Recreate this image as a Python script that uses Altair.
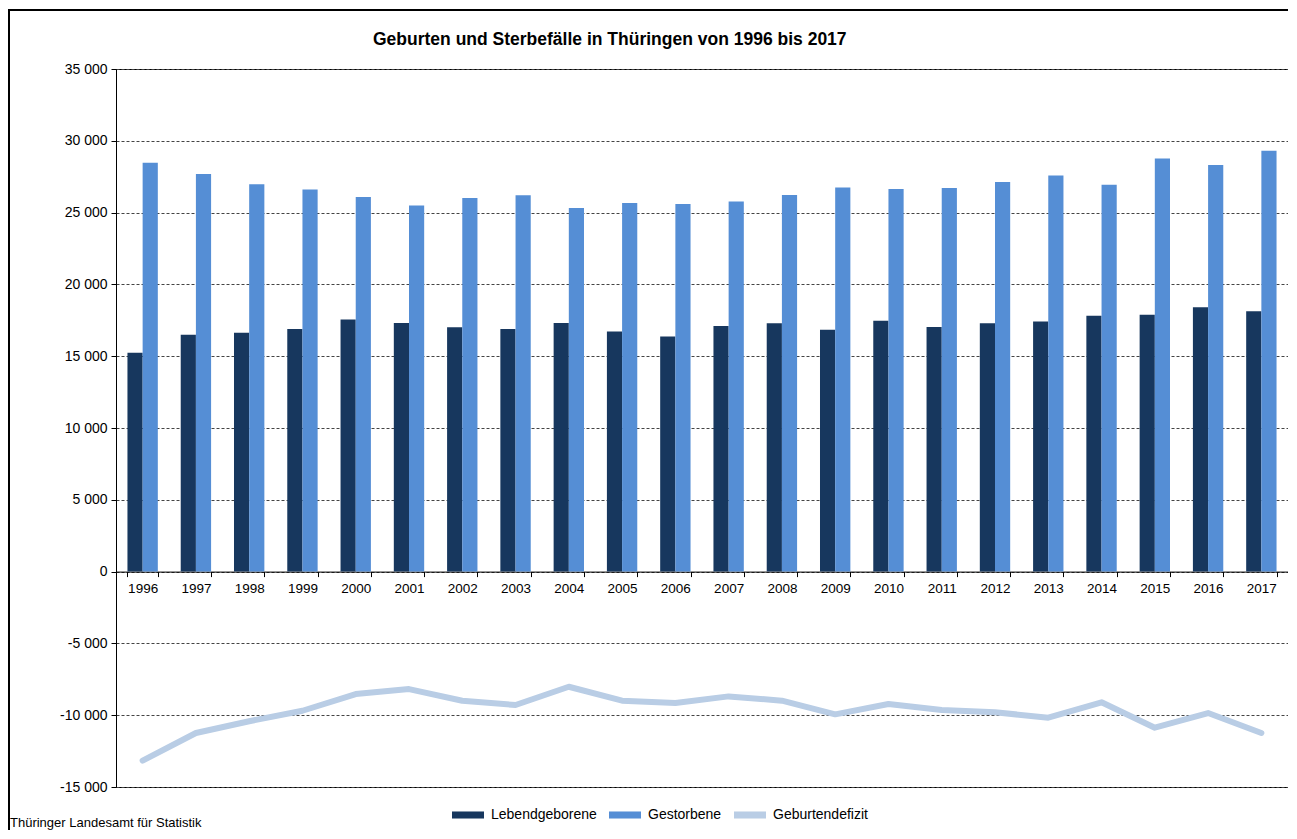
import altair as alt
import pandas as pd

years = ["1996", "1997", "1998", "1999", "2000", "2001", "2002", "2003", "2004", "2005", "2006",
         "2007", "2008", "2009", "2010", "2011", "2012", "2013", "2014", "2015", "2016", "2017"]
lebendgeborene = [15240, 16490, 16630, 16900, 17550, 17320, 17020, 16900, 17320, 16720, 16370,
                  17110, 17300, 16840, 17460, 17040, 17300, 17410, 17810, 17880, 18410, 18130]
gestorbene = [28470, 27690, 26970, 26600, 26090, 25490, 26020, 26200, 25320, 25670, 25600,
              25780, 26220, 26750, 26640, 26710, 27130, 27590, 26940, 28770, 28310, 29300]
geburtendefizit = [-13160, -11240, -10420, -9690, -8530, -8180, -8990, -9290, -8020, -8990, -9150,
                   -8690, -8990, -9940, -9220, -9640, -9800, -10170, -9100, -10870, -9850, -11240]
series = ["Lebendgeborene", "Gestorbene", "Geburtendefizit"]
colors = ["#17375E", "#558ED5", "#B9CDE5"]
title_text = "Geburten und Sterbefälle in Thüringen von 1996 bis 2017"
source_text = "Thüringer Landesamt für Statistik"

bar_df = pd.DataFrame({
    "Jahr": years * 2,
    "Reihe": [series[0]] * len(years) + [series[1]] * len(years),
    "Wert": lebendgeborene + gestorbene,
})
line_df = pd.DataFrame({"Jahr": years, "Reihe": series[2], "Wert": geburtendefizit})

W, H = 1172, 718
Y_MIN, Y_MAX = -15000, 35000
zero_from_bottom = H * (0 - Y_MIN) / (Y_MAX - Y_MIN)
FONT = "Liberation Sans"

xscale = alt.Scale(domain=years, paddingInner=0.43, paddingOuter=0.215)
yscale = alt.Scale(domain=[Y_MIN, Y_MAX], nice=False)
cscale = alt.Scale(domain=series, range=colors)

bars = alt.Chart(bar_df).mark_bar().encode(
    x=alt.X("Jahr:N", scale=xscale, sort=years,
            axis=alt.Axis(title=None, labelAngle=0, offset=-zero_from_bottom, tickBand="extent",
                          tickSize=5, tickColor="#000", domainColor="#000", labelPadding=5,
                          labelFontSize=13.5, labelColor="#000", labelFont=FONT, grid=False)),
    xOffset=alt.XOffset("Reihe:N", scale=alt.Scale(domain=series[:2])),
    y=alt.Y("Wert:Q", scale=yscale,
            axis=alt.Axis(title=None, values=list(range(Y_MIN, Y_MAX + 1, 5000)),
                          labelExpr="replace(replace(format(datum.value, ','), ',', ' '), '\u2212', '-')",
                          tickSize=5, tickColor="#000", domainColor="#000", labelPadding=4,
                          labelFontSize=14, labelColor="#000", labelFont=FONT,
                          grid=True, gridColor="#444", gridDash=[3, 2], gridWidth=1)),
    color=alt.Color("Reihe:N", scale=cscale, title=None,
                    legend=alt.Legend(orient="none", legendX=336, legendY=730, direction="horizontal",
                                      symbolType="M-1,-0.22H1V0.22H-1Z", symbolSize=1024,
                                      symbolStrokeWidth=0, labelFontSize=14, labelFont=FONT,
                                      labelColor="#000", columnPadding=12, labelOffset=7)),
)

line = alt.Chart(line_df).mark_line(strokeWidth=6, strokeCap="round", strokeJoin="round").encode(
    x=alt.X("Jahr:N", scale=xscale, sort=years),
    y=alt.Y("Wert:Q", scale=yscale),
    color=alt.Color("Reihe:N", scale=cscale),
)

title = alt.Chart(pd.DataFrame({"t": [title_text]})).mark_text(
    align="left", baseline="middle", fontSize=17.5, font=FONT, fontWeight="bold", color="#000"
).encode(x=alt.value(257), y=alt.value(-29), text="t:N")

source = alt.Chart(pd.DataFrame({"t": [source_text]})).mark_text(
    align="left", baseline="middle", fontSize=13, font=FONT, color="#000"
).encode(x=alt.value(-106), y=alt.value(H + 36), text="t:N")

frame = alt.Chart(pd.DataFrame({"f": [1]})).mark_rect(
    fillOpacity=0, stroke="#000", strokeWidth=2
).encode(x=alt.value(-107), x2=alt.value(W + 40), y=alt.value(-59), y2=alt.value(H + 90))

chart = alt.layer(bars, line, title, source, frame).properties(
    width=W, height=H,
    autosize=alt.AutoSizeParams(type="none"),
    padding={"left": 108, "top": 61, "right": 0, "bottom": 43},
).configure_view(stroke="#000", strokeWidth=1)

chart.save("out.html", embed_options={"renderer": "svg", "actions": False})
